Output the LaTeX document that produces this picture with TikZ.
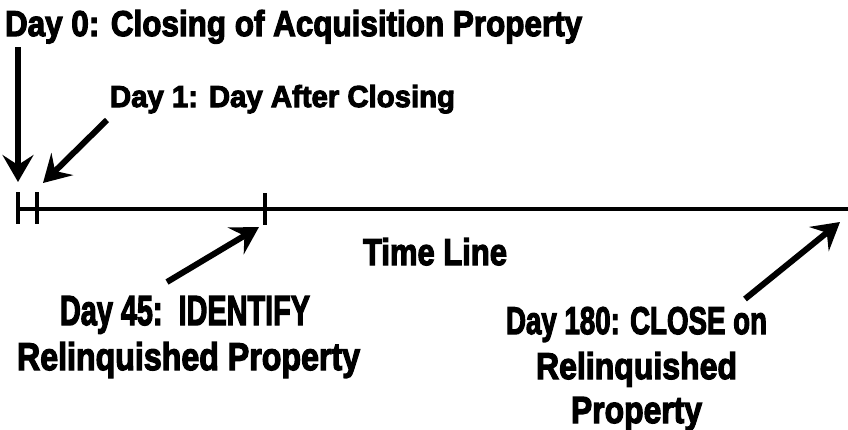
\documentclass[tikz,border=0pt]{standalone}
\usepackage{fontspec}
\setmainfont{Liberation Sans}[BoldFeatures={FakeBold=3.5}]
\usetikzlibrary{arrows.meta}
% #1 = width, #2 = height above baseline (both in pt), #3 = text
\newcommand{\fitlabel}[3]{\resizebox{#1pt}{#2pt}{\bfseries #3}}

\begin{document}
\begin{tikzpicture}[x=1pt,y=-1pt,
  lbl/.style={anchor=base west, inner sep=0pt, outer sep=0pt},
  axis/.style={line width=4.5pt},
  tickmark/.style={line width=3.5pt},
  pointer/.style={line width=6pt, -{Stealth[length=27pt,width=31pt,inset=10pt]}}]
\useasboundingbox (0,0) rectangle (848,429);

% time line and its day marks
\coordinate (d0)   at (18,209);
\coordinate (d1)   at (37,209);
\coordinate (d45)  at (265,209);
\coordinate (dend) at (848,209);
\draw[axis] (d0) -- (dend);
\draw[tickmark] (d0)  ++(0,-17) -- ++(0,32);
\draw[tickmark] (d1)  ++(0,-17) -- ++(0,32);
\draw[tickmark] (d45) ++(0,-16) -- ++(0,32);

% labels
\node[lbl] (day0)  at (5,36)   {\fitlabel{577}{26}{Day 0: Closing of Acquisition Property}};
\node[lbl] (day1)  at (110,107) {\fitlabel{345}{22}{Day 1: Day After Closing}};
\node[lbl] (tl)    at (363,265) {\fitlabel{144}{27}{Time Line}};
\node[lbl] (day45a) at (60,325) {\fitlabel{250}{29}{Day 45:\ \ IDENTIFY}};
\node[lbl] (day45b) at (17,370) {\fitlabel{343}{28}{Relinquished Property}};
\node[lbl] (day180a) at (506,334) {\fitlabel{261}{27}{Day 180: CLOSE on}};
\node[lbl] (day180b) at (536,379) {\fitlabel{201}{27}{Relinquished}};
\node[lbl] (day180c) at (571,423) {\fitlabel{131}{26}{Property}};

% pointers
\coordinate (p0a) at (18,47);   \coordinate (p0b) at (18,182);
\coordinate (p1a) at (107,120); \coordinate (p1b) at (43,183);
\coordinate (p2a) at (167,282); \coordinate (p2b) at (259,227);
\coordinate (p3a) at (745,299); \coordinate (p3b) at (840,222);
\draw[pointer] (p0a) -- (p0b);
\draw[pointer] (p1a) -- (p1b);
\draw[pointer] (p2a) -- (p2b);
\draw[pointer] (p3a) -- (p3b);
\end{tikzpicture}
\end{document}
